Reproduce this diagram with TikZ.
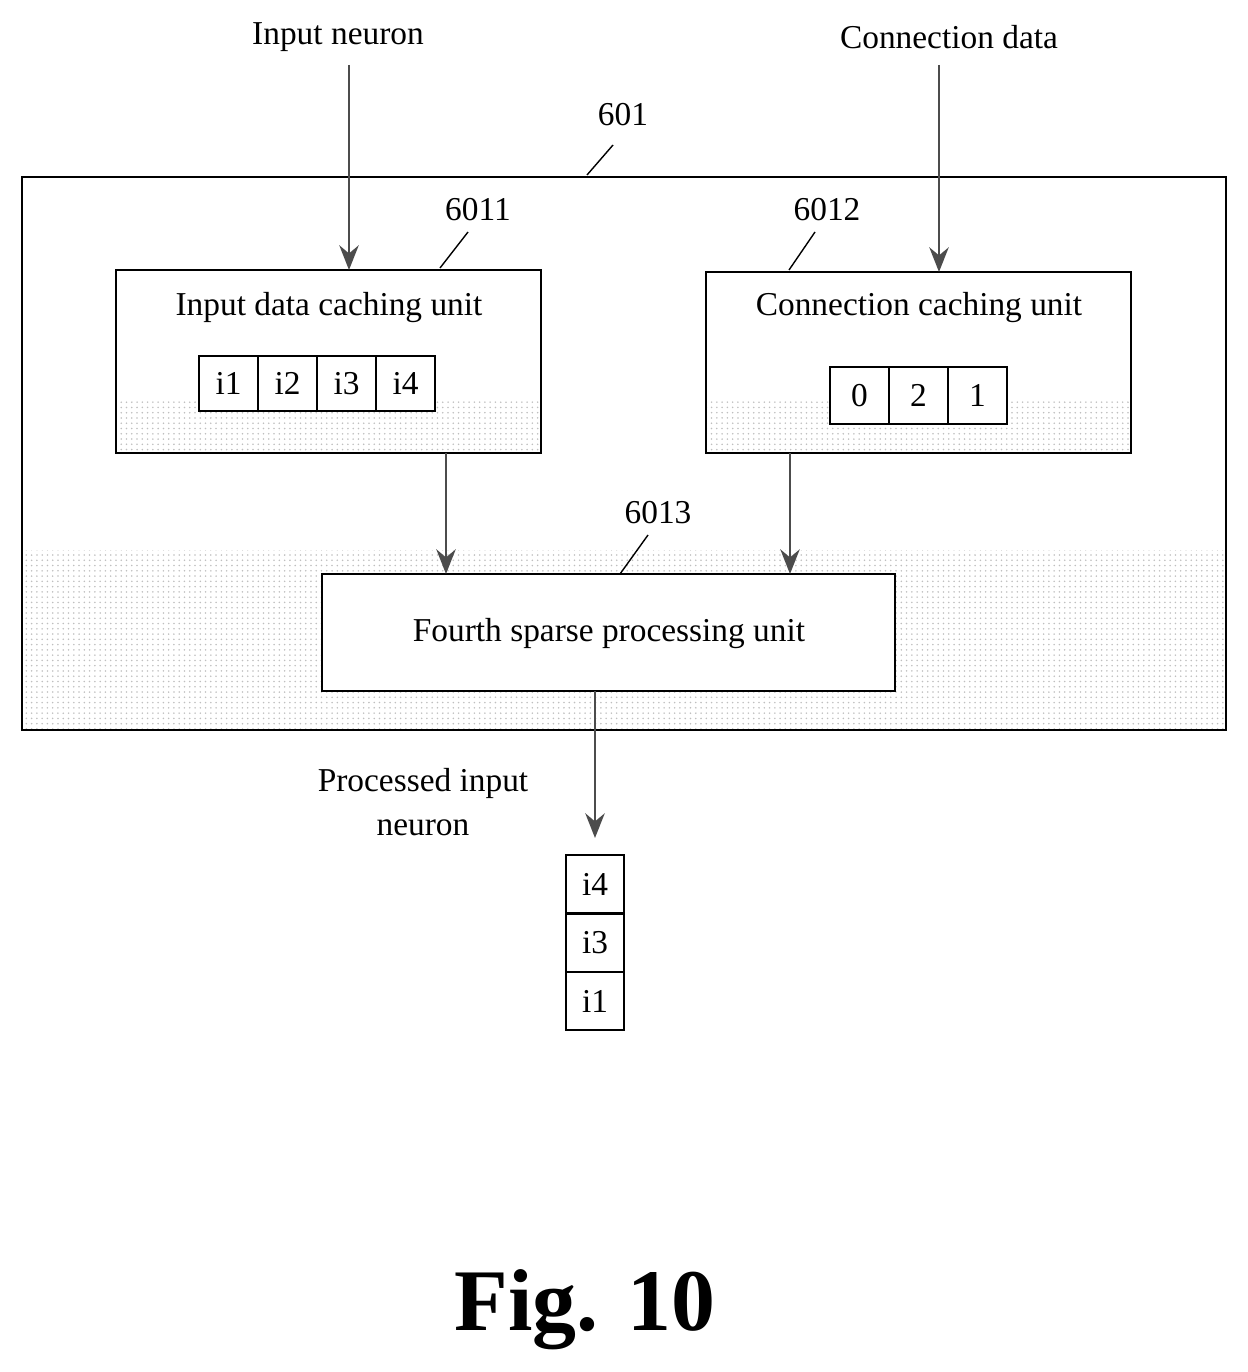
\documentclass[tikz,border=0pt]{standalone}
\usepackage{fontspec}
\setmainfont{Liberation Serif}
\usetikzlibrary{arrows.meta,patterns}
\begin{document}
\begin{tikzpicture}[x=0.02cm,y=-0.02cm,
  txt/.style={font=\fontsize{19}{23}\selectfont, inner sep=0pt},
  box/.style={draw=black, line width=0.8pt},
  arr/.style={draw=black!70, line width=1.6pt, -{Stealth[length=14pt,width=11pt]}},
  lead/.style={draw=black, line width=0.8pt}]
\useasboundingbox (0,0) rectangle (1247,1372);
% shading
\fill[pattern=dots, pattern color=black!25] (22,550) rectangle (1226,730);
\fill[pattern=dots, pattern color=black!25] (116,400) rectangle (541,453);
\fill[pattern=dots, pattern color=black!25] (706,400) rectangle (1131,453);
\draw[box] (22,177) rectangle (1226,730);
\fill[white] (116,270) rectangle (541,400);
\fill[white] (706,272) rectangle (1131,400);
\draw[box] (116,270) rectangle (541,453);
\draw[box] (706,272) rectangle (1131,453);
\draw[box, fill=white] (322,574) rectangle (895,691);
\node[txt] (t1) at (329,308) {Input data caching unit};
\node[txt] (t2) at (919,308) {Connection caching unit};
\node[txt] (t3) at (609,634) {Fourth sparse processing unit};
% cells
\foreach \x/\l in {199/i1,258/i2,317/i3,376/i4}
  \draw[box,fill=white] (\x,356) rectangle +(59,55) node[txt, midway] {\l};
\foreach \x/\l in {830/0,889/2,948/1}
  \draw[box,fill=white] (\x,367) rectangle +(59,57) node[txt, midway] {\l};
\foreach \y/\l in {855/i4,914/i3,972/i1}
  \draw[box] (566,\y) rectangle +(58,58) node[txt, midway] {\l};
% labels
\node[txt] (in) at (338,37) {Input neuron};
\node[txt] (cd) at (949,37) {Connection data};
\node[txt] at (623,115) {601};
\node[txt] at (478,210) {6011};
\node[txt] at (827,210) {6012};
\node[txt] at (658,513) {6013};
\node[txt, align=center, font=\fontsize{19}{25}\selectfont] at (423,802) {Processed input\\neuron};
\node[inner sep=0, font=\fontsize{50}{60}\selectfont\bfseries] at (585,1310) {Fig. 10};
\draw[lead] (587,175) -- (613,145);
\draw[lead] (440,268) -- (468,232);
\draw[lead] (789,270) -- (815,232);
\draw[lead] (620,574) -- (648,535);
% arrows
\draw[arr] (349,65) -- (349,270);
\draw[arr] (939,65) -- (939,272);
\draw[arr] (446,453) -- (446,574);
\draw[arr] (790,453) -- (790,574);
\draw[arr] (595,691) -- (595,838);
\end{tikzpicture}
\end{document}
